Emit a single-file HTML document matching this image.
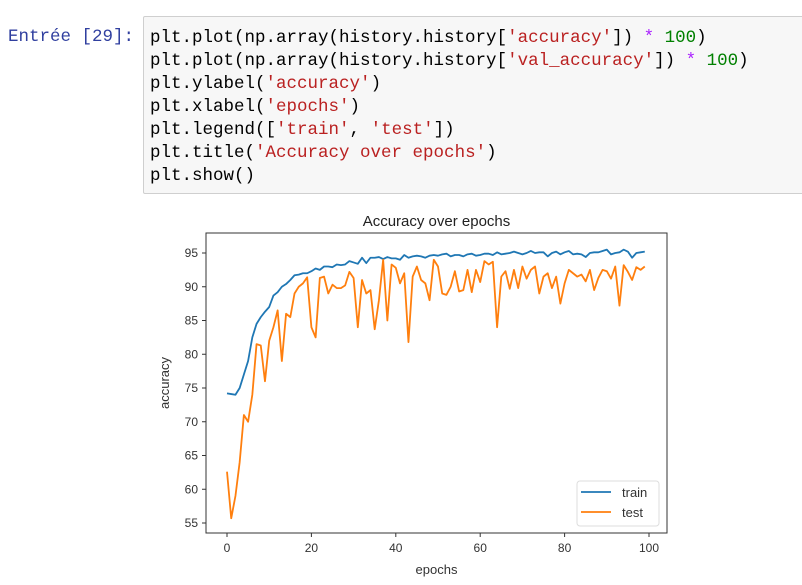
<!DOCTYPE html>
<html><head><meta charset="utf-8">
<style>
body{margin:0;width:802px;height:585px;background:#fff;position:relative;overflow:hidden;font-family:"Liberation Sans",sans-serif}
.prompt{position:absolute;left:8px;top:26px;color:#303F9F;font:17.5px/23px "Liberation Mono",monospace}
.code{position:absolute;left:143px;top:16px;width:670px;height:178px;background:#f7f7f7;border:1px solid #cfcfcf;border-radius:2px;box-sizing:border-box}
.code pre{margin:0;position:absolute;left:6px;top:10px;font:17.5px/23px "Liberation Mono",monospace;color:#000}
.s{color:#BA2121}.o{color:#AA22FF}.n{color:#008000}
</style></head><body>
<div class="prompt">Entrée [29]:</div>
<div class="code"><pre>plt.plot(np.array(history.history[<span class="s">'accuracy'</span>]) <span class="o">*</span> <span class="n">100</span>)
plt.plot(np.array(history.history[<span class="s">'val_accuracy'</span>]) <span class="o">*</span> <span class="n">100</span>)
plt.ylabel(<span class="s">'accuracy'</span>)
plt.xlabel(<span class="s">'epochs'</span>)
plt.legend([<span class="s">'train'</span>, <span class="s">'test'</span>])
plt.title(<span class="s">'Accuracy over epochs'</span>)
plt.show()</pre></div>
<svg id="chart" width="802" height="585" style="position:absolute;left:0;top:0"></svg>
<script>
const xTicks=[0,20,40,60,80,100];
const yTicks=[55,60,65,70,75,80,85,90,95];
const seriesNames=['train','test'];
const trainAcc=[74.2,74.1,74.0,75,77,79,82.5,84.5,85.5,86.3,87,88.7,89.2,90,90.4,91,91.7,91.8,92,92,92.3,92.7,92.5,93,93,92.9,93.3,93.2,93.3,93.8,93.6,93.4,94.3,93.5,94.3,94.3,94.4,94.1,94.4,94.2,94.2,94.0,94.7,94.3,94.5,94.6,94.5,94.3,94.6,94.7,94.6,94.8,94.9,94.5,94.7,94.7,94.5,94.8,94.9,94.6,94.7,94.9,94.9,94.7,95.1,94.8,94.9,95.0,95.2,95.0,94.8,95.0,95.3,95.0,95.1,95.1,94.5,95.0,95.2,94.8,95.1,95.3,94.8,94.9,94.8,94.4,95.0,95.1,95.1,95.3,95.5,94.8,95.0,95.1,95.5,95.2,94.3,95.0,95.1,95.2];
const testAcc=[62.6,55.7,59,64,71,70,74,81.5,81.3,76,82,84,86.5,79,86,85.5,89,90,90.5,91.4,84,82.5,91.3,91.5,89,90.3,89.8,89.8,90.2,92.2,91.3,84,91,89,89.5,83.7,88,94,85,93.3,92.8,90.5,92,81.8,91.5,93,91,90.5,88,94,93,89,88.8,90,92.3,89.3,89.5,92.5,89.2,92.5,90.7,93.8,93.3,93.7,84,91.5,92.3,89.7,92.5,89.8,93,91.2,92.5,93,89,91.5,92,89.8,91.5,87.5,90.5,92.5,92,91.5,91.8,90.8,92.5,89.5,91.3,92.5,92.3,91.2,93,87.2,93.2,92.2,91,92.9,92.5,93];
const svg=document.getElementById('chart');const NS='http://www.w3.org/2000/svg';
const L=206,R=667,T=233,B=533;
const X=v=>227+(v-0)*(649-227)/100;
const Y=v=>253+(95-v)*(523-253)/40;
function mk(tag,a,parent){const e=document.createElementNS(NS,tag);for(const k in a)e.setAttribute(k,a[k]);(parent||svg).appendChild(e);return e;}
mk('rect',{x:L,y:T,width:R-L,height:B-T,fill:'#fff'});
xTicks.forEach(t=>{const g=mk('g',{});


mk('line',{x1:X(t),x2:X(t),y1:B,y2:B+4,stroke:'#333','stroke-width':1},g);
const tx=mk('text',{x:X(t),y:B+19,'text-anchor':'middle','font-size':12,fill:'#333'},g);tx.textContent=t;});
yTicks.forEach(t=>{const g=mk('g',{});


mk('line',{x1:L-4,x2:L,y1:Y(t),y2:Y(t),stroke:'#333','stroke-width':1},g);
const tx=mk('text',{x:L-8,y:Y(t)+4,'text-anchor':'end','font-size':12,fill:'#333'},g);tx.textContent=t;});
const colors=['#1f77b4','#ff7f0e'];
[trainAcc,testAcc].forEach((d,i)=>{const p=mk('polyline',{points:d.map((v,j)=>X(j)+','+Y(v)).join(' '),fill:'none',stroke:colors[i],'stroke-width':1.8,'stroke-linejoin':'round'});

});
const fr=mk('rect',{x:L,y:T,width:R-L,height:B-T,fill:'none',stroke:'#333','stroke-width':1});


const title=mk('text',{x:(L+R)/2,y:226,'text-anchor':'middle','font-size':15,fill:'#222'});title.textContent='Accuracy over epochs';


const xl=mk('text',{x:(L+R)/2,y:574,'text-anchor':'middle','font-size':13,fill:'#333'});xl.textContent='epochs';


const yl=mk('text',{x:0,y:0,'text-anchor':'middle','font-size':13,fill:'#333',transform:'translate(169,'+((T+B)/2)+') rotate(-90)'});yl.textContent='accuracy';


const lg=mk('g',{});


mk('rect',{x:577,y:481,width:82,height:45,rx:3,fill:'#fff',stroke:'#ddd'},lg);
seriesNames.forEach((n,i)=>{const g=mk('g',{},lg);


mk('line',{x1:581,x2:611,y1:492+i*20,y2:492+i*20,stroke:colors[i],'stroke-width':1.8},g);
const t=mk('text',{x:622,y:497+i*20,'font-size':13,fill:'#333'},g);t.textContent=n;});
</script>
</body></html>
